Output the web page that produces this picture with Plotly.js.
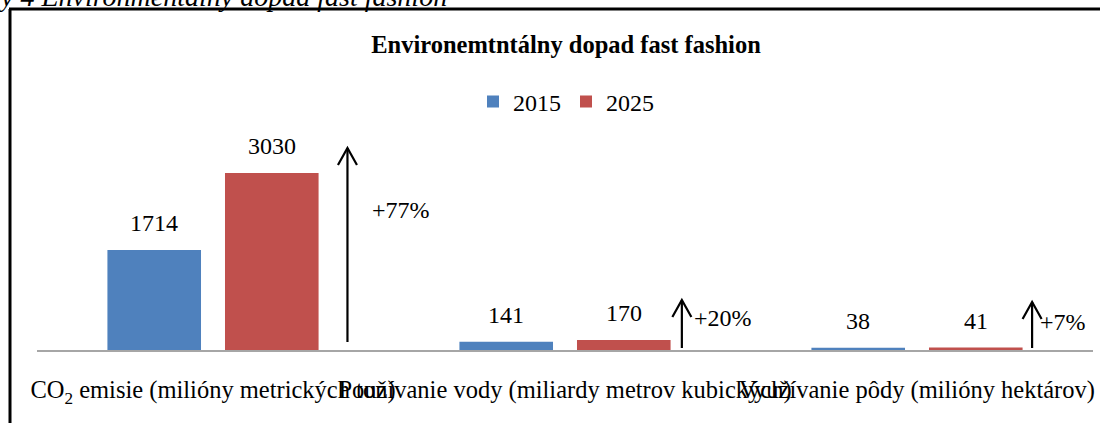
<!DOCTYPE html>
<html><head><meta charset="utf-8">
<script src="https://cdn.plot.ly/plotly-3.0.1.min.js"></script>
<style>html,body{margin:0;padding:0;background:#fff;}#chart{width:1108px;height:423px;}</style>
</head><body><div id="chart"></div>
<script>
const categories = ["CO<sub>2</sub> emisie (milióny metrických ton)", "Používanie vody (miliardy metrov kubických)", "Využívanie pôdy (milióny hektárov)"];
const seriesNames = ["2015", "2025"];
const values2015 = [1714, 141, 38];
const values2025 = [3030, 170, 41];
const changeLabels = ["+77%", "+20%", "+7%"];

const FONT = "Liberation Serif, Times New Roman, serif";
const W = 1108, H = 423;
const margin = {l: 37, r: 15, t: 116, b: 73};
const plotW = W - margin.l - margin.r, plotH = H - margin.t - margin.b;
const yMax = 4006;
const px2y = py => (H - margin.b - py) / plotH * yMax;
const pxX = px => (px - margin.l) / plotW;
const pxY = py => (H - margin.b - py) / plotH;

const idx = categories.map((_, i) => i);
const colors = ["#4F81BD", "#C0504D"];

const traces = [values2015, values2025].map((vals, s) => ({
  type: "bar", name: seriesNames[s], x: idx, y: vals,
  marker: {color: colors[s]}, hoverinfo: "skip"
}));

const annotations = [];
const slotPx = 117.5;
[values2015, values2025].forEach((vals, s) => {
  vals.forEach((v, i) => {
    annotations.push({x: i, y: v, xref: "x", yref: "y", text: String(v), showarrow: false,
      xshift: (s === 0 ? -1 : 1) * slotPx / 2, yshift: 27, yanchor: "middle",
      font: {family: FONT, size: 24, color: "#000"}});
  });
});

// arrow layout (positions in category units / pixels)
const arrowSpec = [
  {dx: 0.382, topPx: 148, botPx: 342, labelPx: 370, labelY: 210},
  {dx: 0.332, topPx: 300, botPx: 348, labelPx: 692, labelY: 318},
  {dx: 0.327, topPx: 302, botPx: 348, labelPx: 1038, labelY: 322}
];
const shapes = [];
arrowSpec.forEach((a, i) => {
  const xc = i + a.dx;
  shapes.push({type: "line", xref: "x", yref: "y", x0: xc, x1: xc, y0: px2y(a.botPx), y1: px2y(a.topPx),
    line: {color: "#000", width: 2.2}});
  shapes.push({type: "path", xref: "x", yref: "y", xsizemode: "pixel", ysizemode: "pixel",
    xanchor: xc, yanchor: px2y(a.topPx), path: "M-9.5,-17 L0,0 L9.5,-17",
    line: {color: "#000", width: 2.2}});
  annotations.push({xref: "paper", yref: "paper", x: pxX(a.labelPx), y: pxY(a.labelY),
    xanchor: "left", yanchor: "middle", showarrow: false, text: changeLabels[i],
    font: {family: FONT, size: 24, color: "#000"}});
});

// frame
shapes.push({type: "line", xref: "paper", yref: "paper", x0: pxX(10), x1: pxX(10), y0: pxY(9), y1: pxY(430), line: {color: "#000", width: 3}});
shapes.push({type: "line", xref: "paper", yref: "paper", x0: pxX(9), x1: pxX(1100), y0: pxY(9), y1: pxY(9), line: {color: "#000", width: 3}});

// cut-off caption at the very top
annotations.push({xref: "paper", yref: "paper", x: pxX(-4), y: pxY(-4), xanchor: "left", yanchor: "middle",
  showarrow: false, text: "<i>y 4 Environmentálny dopad fast fashion</i>",
  font: {family: FONT, size: 28, color: "#000"}});

const layout = {
  width: W, height: H, margin: margin,
  paper_bgcolor: "#fff", plot_bgcolor: "#fff",
  title: {text: "<b>Environemtntálny dopad fast fashion</b>", x: pxX(566), xref: "paper", xanchor: "center",
    y: 1 - 44 / H, yref: "container", yanchor: "middle", font: {family: FONT, size: 24.5, color: "#000"}},
  barmode: "group", bargap: 0.332, bargroupgap: 0.204,
  showlegend: true,
  legend: {orientation: "h", x: pxX(566), xanchor: "center", y: pxY(102), yanchor: "middle",
    font: {family: FONT, size: 24, color: "#000"}, itemwidth: 30, bgcolor: "rgba(0,0,0,0)"},
  xaxis: {range: [-0.5, 2.5], tickmode: "array", tickvals: idx, ticktext: categories,
    showline: true, linecolor: "#A6A6A6", linewidth: 2, ticks: "", showgrid: false, zeroline: false,
    tickangle: 0, ticklabelstandoff: 17, tickfont: {family: FONT, size: 24.5, color: "#000"}},
  yaxis: {range: [0, yMax], visible: false, showgrid: false, zeroline: false},
  shapes: shapes, annotations: annotations
};
Plotly.newPlot("chart", traces, layout, {displayModeBar: false, staticPlot: true});
</script></body></html>
